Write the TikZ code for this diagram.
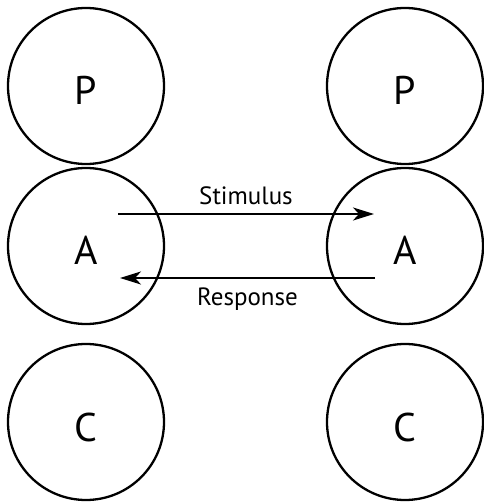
\documentclass[tikz,border=0pt]{standalone}
\usepackage{fontspec}
\setmainfont{PT Sans}
\usetikzlibrary{calc, arrows.meta, positioning}
\tikzset{
    ego/.style={circle, draw, line width=2.3pt, minimum size=156pt, inner sep=0pt,
        font=\fontsize{40}{40}\selectfont, text height=38pt, text depth=0pt},
    msg/.style={line width=2.3pt, -{Stealth[length=21pt, width=13pt, inset=6pt]}},
    msglabel/.style={font=\fontsize{25}{25}\selectfont}
}
\newcommand{\drawV}[4]{
    \node[ego] (#4) at (#1, #2) {#3};
}

\begin{document}
\begin{tikzpicture}[x=1pt, y=1pt]
        \useasboundingbox (0,0) rectangle (483,504);
        % Left person
        \drawV{86}{418}{P}{PL}
        \drawV{86}{258}{A}{AL}
        \drawV{86}{82}{C}{CL}
        % Right person
        \drawV{405}{418}{P}{PR}
        \drawV{405}{258}{A}{AR}
        \drawV{405}{82}{C}{CR}
        % Transaction
        \draw[msg] ([shift={(32,32)}]AL.center) -- ([shift={(-31,32)}]AR.center)
            node[msglabel, midway, above=5pt] (stim) {Stimulus};
        \draw[msg] ([shift={(-30,-32)}]AR.center) -- ([shift={(34,-32)}]AL.center)
            node[msglabel, midway, below=5pt] (resp) {Response};
    \end{tikzpicture}
\end{document}
